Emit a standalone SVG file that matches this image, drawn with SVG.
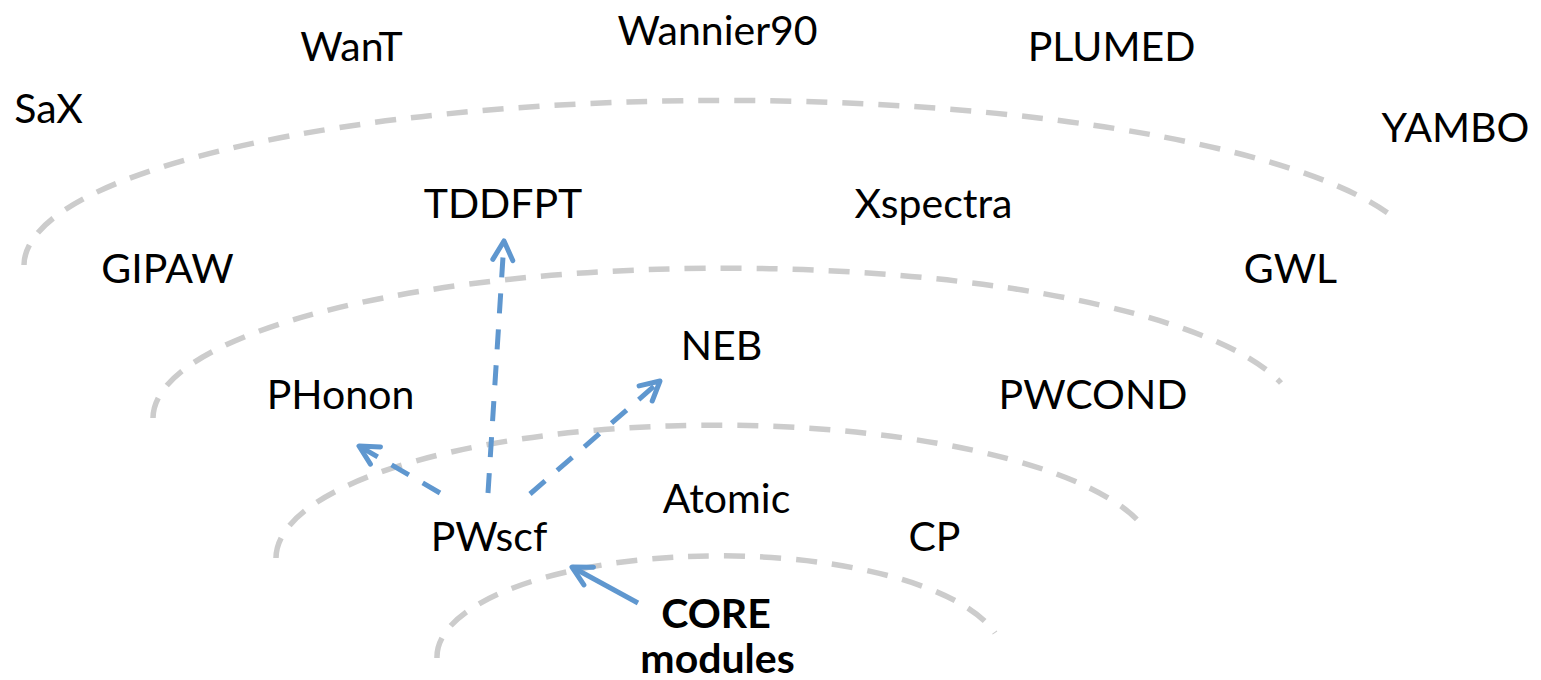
<svg xmlns="http://www.w3.org/2000/svg" width="1541" height="680" viewBox="0 0 1541 680">
<style>
.lbl{font-family:Lato,"Liberation Sans",sans-serif;font-size:41px;fill:#000;text-anchor:middle}
.bold{font-weight:bold}
.ring{fill:none;stroke:#cccccc;stroke-width:5.5;stroke-dasharray:21 15}
.arr{fill:none;stroke:#5f97cf;stroke-width:5}
.dash{stroke-dasharray:20 16}
</style>
<defs>
<marker id="head" viewBox="-24 -14 28 28" refX="0" refY="0" markerWidth="28" markerHeight="28" markerUnits="userSpaceOnUse" orient="auto">
<path d="M-19,-10 L0,0 L-19,10" fill="none" stroke="#5f97cf" stroke-width="5" stroke-linecap="round" stroke-linejoin="round"/>
</marker>
</defs>
<g id="rings">
<path class="ring" d="M24,265 A700,165 0 0 1 1397,220"/>
<path class="ring" d="M153,418 A572,150 0 0 1 1281,383"/>
<path class="ring" d="M276,558 A440,133 0 0 1 1146,530"/>
<path class="ring" d="M437,658 A283,101 0 0 1 995,633"/>
</g>
<g id="connectors">
<line class="arr dash" x1="440" y1="493" x2="359" y2="446" marker-end="url(#head)"/>
<line class="arr dash" x1="488" y1="493" x2="504" y2="241" marker-end="url(#head)"/>
<line class="arr dash" x1="530" y1="494" x2="660" y2="381" marker-end="url(#head)"/>
<line class="arr" x1="638" y1="603" x2="572" y2="567" marker-end="url(#head)"/>
</g>
<g id="SaX"><text class="lbl" x="48.5" y="123">SaX</text></g>
<g id="WanT"><text class="lbl" x="351.5" y="61">WanT</text></g>
<g id="Wannier90"><text class="lbl" x="717.5" y="45">Wannier90</text></g>
<g id="PLUMED"><text class="lbl" x="1111.5" y="61">PLUMED</text></g>
<g id="YAMBO"><text class="lbl" x="1455.5" y="142">YAMBO</text></g>
<g id="TDDFPT"><text class="lbl" x="503" y="218">TDDFPT</text></g>
<g id="Xspectra"><text class="lbl" x="933.5" y="218">Xspectra</text></g>
<g id="GIPAW"><text class="lbl" x="167.5" y="283">GIPAW</text></g>
<g id="GWL"><text class="lbl" x="1290.5" y="283">GWL</text></g>
<g id="NEB"><text class="lbl" x="721.5" y="360">NEB</text></g>
<g id="PHonon"><text class="lbl" x="340.5" y="409">PHonon</text></g>
<g id="PWCOND"><text class="lbl" x="1093" y="409">PWCOND</text></g>
<g id="Atomic"><text class="lbl" x="726.5" y="513">Atomic</text></g>
<g id="PWscf"><text class="lbl" x="489" y="551">PWscf</text></g>
<g id="CP"><text class="lbl" x="934.5" y="551">CP</text></g>
<g id="CORE"><text class="lbl bold" x="716" y="628">CORE</text><text class="lbl bold" x="717.5" y="673">modules</text></g>
</svg>
